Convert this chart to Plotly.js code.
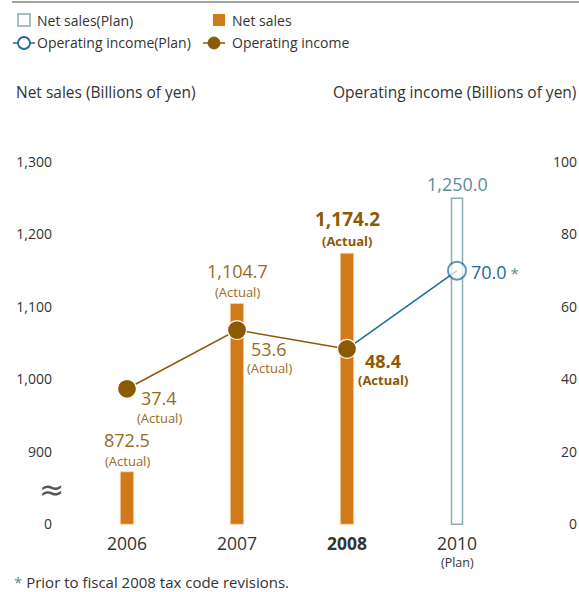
<!DOCTYPE html>
<html>
<head>
<meta charset="utf-8">
<script src="https://cdn.plot.ly/plotly-3.0.1.min.js"></script>
<style>html,body{margin:0;padding:0;background:#fff;}#chart{width:579px;height:592px;}</style>
</head>
<body>
<div id="chart"></div>
<script>
// ---- data ----
const years = ['2006', '2007', '2008', '2010'];
const yearLabels = ['2006', '2007', '<b>2008</b>', '2010'];
const planNote = '(Plan)';
const actualYears = ['2006', '2007', '2008'];
const netSales = [872.5, 1104.7, 1174.2];
const netSalesPlanYear = ['2010'];
const netSalesPlan = [1250.0];
const opIncome = [37.4, 53.6, 48.4];
const opPlanYears = ['2008', '2010'];
const opIncomePlan = [48.4, 70.0];
const axisBreak = 800; // the broken axis shows "0" at this position
const leftTickVals = [800, 900, 1000, 1100, 1200, 1300];
const leftTickText = ['0', '900', '1,000', '1,100', '1,200', '1,300'];
const rightTickVals = [0, 20, 40, 60, 80, 100];
const rightTickText = ['\u2007\u20070', '\u200720', '\u200740', '\u200760', '\u200780', '100'];

// ---- styles ----
const FONT = 'Open Sans, Noto Sans, sans-serif';
const ORANGE = '#D07A1A';
const BROWN = '#8B5A05';
const BROWN_TXT = '#9A6A22';
const BLUE = '#1F6A9B';
const PLAN = '#8FAAB3';
const PLAN_TXT = '#5E8B95';
const GREY = '#333333';

const L = 57, R = 549, T = 162, B = 525;
const W = R - L, H = B - T;
const xp = px => (px - L) / W;
const yp = py => (B - py) / H;
const xi = yr => years.indexOf(yr);
const fmt = v => v.toLocaleString('en-US', {minimumFractionDigits: 1, maximumFractionDigits: 1});

const traces = [
  {type: 'bar', x: actualYears, y: netSales.map(v => v - axisBreak), base: axisBreak, width: 0.122,
   customdata: netSales,
   marker: {color: ORANGE, line: {color: '#F2D8B5', width: 0.8}}, hoverinfo: 'skip', showlegend: false},
  {type: 'bar', x: netSalesPlanYear, y: netSalesPlan.map(v => v - axisBreak), base: axisBreak, width: 0.1,
   customdata: netSalesPlan,
   marker: {color: '#ffffff', line: {color: PLAN, width: 1.5}}, hoverinfo: 'skip', showlegend: false},
  {type: 'scatter', mode: 'lines+markers', x: opPlanYears, y: opIncomePlan, yaxis: 'y2',
   line: {color: BLUE, width: 1.5},
   marker: {size: [0, 18], color: '#ffffff', line: {color: BLUE, width: 2}}, showlegend: false},
  {type: 'scatter', mode: 'lines+markers', x: actualYears, y: opIncome, yaxis: 'y2',
   line: {color: BROWN, width: 1.5},
   marker: {size: 19, color: BROWN, line: {color: '#ffffff', width: 1.2}}, showlegend: false}
];

const ann = [];
const txt = (o) => ann.push(Object.assign({showarrow: false, font: {family: FONT, size: 14, color: GREY}}, o));

// axis titles
txt({xref: 'paper', yref: 'paper', x: xp(14), y: yp(92), xanchor: 'left', yanchor: 'middle', text: 'Net sales (Billions of yen)', font: {family: FONT, size: 15.5, color: GREY}});
txt({xref: 'paper', yref: 'paper', x: xp(578), y: yp(92), xanchor: 'right', yanchor: 'middle', text: 'Operating income (Billions of yen)', font: {family: FONT, size: 15.5, color: GREY}});

// net sales labels
const barLab = [
  {dy: 32, dya: 11, bold: false},
  {dy: 33, dya: 12, bold: false},
  {dy: 34, dya: 12, bold: true}
];
actualYears.forEach((yr, i) => {
  const b = barLab[i];
  txt({xref: 'x', yref: 'y', x: xi(yr), y: netSales[i], yanchor: 'middle', yshift: b.dy,
       text: b.bold ? '<b>' + fmt(netSales[i]) + '</b>' : fmt(netSales[i]),
       font: {family: FONT, size: b.bold ? 19 : 18, color: b.bold ? BROWN : BROWN_TXT}});
  txt({xref: 'x', yref: 'y', x: xi(yr), y: netSales[i], yanchor: 'middle', yshift: b.dya,
       text: b.bold ? '<b>(Actual)</b>' : '(Actual)',
       font: {family: FONT, size: 13, color: b.bold ? BROWN : BROWN_TXT}});
});
txt({xref: 'x', yref: 'y', x: xi(netSalesPlanYear[0]), y: netSalesPlan[0], yanchor: 'middle', yshift: 14,
     text: fmt(netSalesPlan[0]), font: {family: FONT, size: 18, color: PLAN_TXT}});

// operating income labels
const opLab = [
  {dx: 32, dy: -9, dya: -29, bold: false},
  {dx: 32, dy: -19, dya: -38, bold: false},
  {dx: 36, dy: -12, dya: -31, bold: true}
];
actualYears.forEach((yr, i) => {
  const o = opLab[i];
  txt({xref: 'x', yref: 'y2', x: xi(yr), y: opIncome[i], xshift: o.dx, yanchor: 'middle', yshift: o.dy,
       text: o.bold ? '<b>' + fmt(opIncome[i]) + '</b>' : fmt(opIncome[i]),
       font: {family: FONT, size: 18, color: o.bold ? BROWN : BROWN_TXT}});
  txt({xref: 'x', yref: 'y2', x: xi(yr), y: opIncome[i], xshift: o.dx, yanchor: 'middle', yshift: o.dya,
       text: o.bold ? '<b>(Actual)</b>' : '(Actual)',
       font: {family: FONT, size: 13, color: o.bold ? BROWN : BROWN_TXT}});
});
txt({xref: 'x', yref: 'y2', x: xi(opPlanYears[1]), y: opIncomePlan[1], xanchor: 'left', xshift: 12, yanchor: 'middle', yshift: -1,
     text: fmt(opIncomePlan[1]) + '<span style="color:' + PLAN_TXT + ';font-size:15px"> *</span>',
     font: {family: FONT, size: 18, color: BLUE}});

// "(Plan)" under 2010 tick
txt({xref: 'x', yref: 'paper', x: xi('2010'), y: yp(562), yanchor: 'middle', text: planNote,
     font: {family: FONT, size: 12.5, color: GREY}});

// axis break symbol
txt({xref: 'paper', yref: 'paper', x: xp(51), y: yp(489), xanchor: 'center', yanchor: 'middle', text: '\u2248',
     font: {family: 'DejaVu Sans, sans-serif', size: 30, color: '#555'}});

// legend texts
txt({xref: 'paper', yref: 'paper', x: xp(35), y: yp(20), xanchor: 'left', yanchor: 'middle', text: 'Net sales(Plan)'});
txt({xref: 'paper', yref: 'paper', x: xp(230), y: yp(20), xanchor: 'left', yanchor: 'middle', text: 'Net sales'});
txt({xref: 'paper', yref: 'paper', x: xp(35), y: yp(43), xanchor: 'left', yanchor: 'middle', text: 'Operating income(Plan)'});
txt({xref: 'paper', yref: 'paper', x: xp(230), y: yp(43), xanchor: 'left', yanchor: 'middle', text: 'Operating income'});

// footnote
txt({xref: 'paper', yref: 'paper', x: xp(12), y: yp(582), xanchor: 'left', yanchor: 'middle',
     text: '<span style="color:' + PLAN_TXT + '">*</span> Prior to fiscal 2008 tax code revisions.',
     font: {family: FONT, size: 15, color: GREY}});

const shapes = [
  {type: 'line', xref: 'paper', yref: 'paper', x0: xp(12), x1: xp(579), y0: yp(2), y1: yp(2), line: {color: '#444', width: 1}},
  {type: 'rect', xref: 'paper', yref: 'paper', x0: xp(18), x1: xp(30), y0: yp(26), y1: yp(14), line: {color: PLAN, width: 1.5}, fillcolor: '#fff'},
  {type: 'rect', xref: 'paper', yref: 'paper', x0: xp(213), x1: xp(225), y0: yp(26), y1: yp(14), line: {width: 0}, fillcolor: ORANGE},
  {type: 'line', xref: 'paper', yref: 'paper', x0: xp(13), x1: xp(35), y0: yp(43), y1: yp(43), line: {color: BLUE, width: 1.5}},
  {type: 'circle', xref: 'paper', yref: 'paper', x0: xp(18), x1: xp(30), y0: yp(49), y1: yp(37), line: {color: BLUE, width: 1.8}, fillcolor: '#fff'},
  {type: 'line', xref: 'paper', yref: 'paper', x0: xp(203), x1: xp(225), y0: yp(43), y1: yp(43), line: {color: BROWN, width: 1.5}},
  {type: 'circle', xref: 'paper', yref: 'paper', x0: xp(208), x1: xp(220), y0: yp(49), y1: yp(37), line: {color: BROWN, width: 1}, fillcolor: BROWN}
];

const layout = {
  width: 579, height: 592,
  margin: {l: L, r: 579 - R, t: T, b: 592 - B, pad: 0},
  paper_bgcolor: '#fff', plot_bgcolor: '#fff',
  showlegend: false,
  barmode: 'overlay',
  font: {family: FONT, color: GREY},
  xaxis: {type: 'category', categoryorder: 'array', categoryarray: years,
          range: [-(127 - L) / 110, 3 + (R - 457) / 110],
          tickvals: years, ticktext: yearLabels, showgrid: false, zeroline: false, showline: false,
          ticks: '', tickfont: {family: FONT, size: 17.5, color: GREY}, ticklabelstandoff: 6, fixedrange: true},
  yaxis: {range: [799, 1300], tickvals: leftTickVals, ticktext: leftTickText, showgrid: false, zeroline: false,
          showline: false, ticks: '', tickfont: {family: FONT, size: 14, color: GREY}, ticklabelstandoff: 4, fixedrange: true},
  yaxis2: {overlaying: 'y', side: 'right', range: [-0.2, 100], tickvals: rightTickVals, ticktext: rightTickText,
           showgrid: false, zeroline: false, showline: false, ticks: '', tickfont: {family: FONT, size: 14, color: GREY},
           ticklabelstandoff: 3, fixedrange: true},
  annotations: ann,
  shapes: shapes
};

Plotly.newPlot('chart', traces, layout, {displayModeBar: false, staticPlot: true});
</script>
</body>
</html>
